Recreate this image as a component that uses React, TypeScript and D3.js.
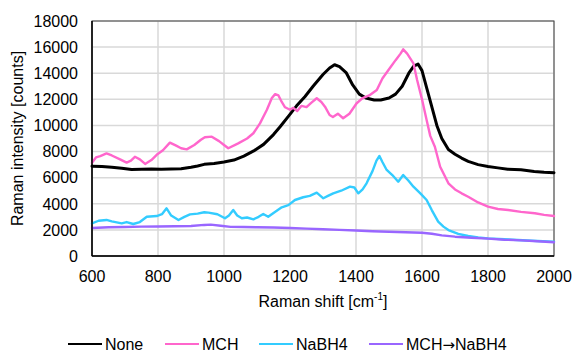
import React from "react";
import * as d3 from "d3";

// Raman spectra, values: [shift cm-1, counts]
const noneSpectrum: [number, number][] = [
  [600, 6880], [630, 6860], [660, 6800], [690, 6720], [720, 6620], [750, 6640], [780, 6660],
  [810, 6650], [840, 6660], [870, 6680], [900, 6800], [920, 6900], [940, 7020], [970, 7080],
  [1000, 7200], [1030, 7350], [1060, 7650], [1090, 8050], [1120, 8550], [1150, 9300],
  [1170, 9900], [1195, 10700], [1220, 11500], [1245, 12200], [1270, 13000], [1300, 13900],
  [1320, 14400], [1335, 14650], [1350, 14500], [1370, 14050], [1390, 13100], [1410, 12400],
  [1430, 12100], [1455, 11950], [1475, 11950], [1500, 12100], [1520, 12400], [1540, 13000],
  [1560, 14000], [1575, 14550], [1588, 14700], [1600, 14200], [1615, 12800], [1630, 11400],
  [1645, 10000], [1660, 9000], [1680, 8150], [1700, 7800], [1720, 7500], [1740, 7250],
  [1770, 7000], [1800, 6850], [1830, 6750], [1860, 6650], [1900, 6600], [1940, 6480],
  [1970, 6420], [2000, 6380],
];

const mchSpectrum: [number, number][] = [
  [600, 7150], [612, 7550], [625, 7650], [644, 7860], [660, 7700], [685, 7400], [705, 7150],
  [718, 7300], [730, 7600], [745, 7400], [761, 7050], [780, 7350], [796, 7750], [815, 8100],
  [836, 8680], [855, 8450], [870, 8250], [887, 8170], [910, 8500], [930, 8900], [942, 9100],
  [963, 9140], [985, 8800], [1000, 8500], [1013, 8250], [1043, 8630], [1070, 9000],
  [1089, 9400], [1109, 10160], [1130, 11200], [1145, 12100], [1155, 12400], [1165, 12300],
  [1175, 11800], [1185, 11390], [1200, 11200], [1210, 11350], [1222, 11100], [1235, 11500],
  [1250, 11400], [1265, 11750], [1281, 12080], [1295, 11800], [1306, 11440], [1320, 10800],
  [1330, 10650], [1345, 10900], [1361, 10550], [1380, 10900], [1402, 11700], [1420, 12100],
  [1440, 12300], [1463, 12720], [1480, 13600], [1500, 14300], [1520, 15000], [1535, 15500],
  [1543, 15830], [1555, 15500], [1574, 14760], [1585, 13500], [1600, 12000], [1614, 10420],
  [1625, 9200], [1639, 8370], [1655, 6840], [1680, 5570], [1700, 5100], [1720, 4800],
  [1740, 4540], [1770, 4100], [1800, 3780], [1830, 3600], [1861, 3520], [1900, 3380],
  [1942, 3270], [1970, 3150], [2000, 3060],
];

const nabh4Spectrum: [number, number][] = [
  [600, 2500], [620, 2700], [644, 2760], [660, 2650], [690, 2500], [705, 2600], [725, 2450],
  [745, 2600], [766, 3010], [796, 3060], [812, 3200], [826, 3650], [840, 3100], [862, 2760],
  [880, 3000], [897, 3190], [920, 3250], [940, 3350], [953, 3320], [980, 3200], [1003, 2890],
  [1015, 3100], [1028, 3520], [1040, 3100], [1054, 2890], [1070, 2950], [1089, 2810],
  [1105, 3000], [1119, 3220], [1134, 3010], [1150, 3300], [1175, 3730], [1195, 3900],
  [1215, 4290], [1240, 4500], [1260, 4600], [1281, 4850], [1301, 4420], [1315, 4600],
  [1331, 4800], [1355, 5000], [1382, 5310], [1395, 5250], [1407, 4800], [1420, 5100],
  [1432, 5570], [1450, 6500], [1462, 7300], [1471, 7660], [1480, 7200], [1493, 6590],
  [1510, 6200], [1528, 5690], [1543, 6200], [1558, 5800], [1574, 5310], [1595, 4800],
  [1614, 4290], [1630, 3500], [1649, 2630], [1665, 2250], [1680, 1990], [1710, 1700],
  [1740, 1530], [1770, 1420], [1800, 1350], [1850, 1280], [1891, 1230], [1950, 1150],
  [2000, 1100],
];

const mchNabh4Spectrum: [number, number][] = [
  [600, 2150], [650, 2200], [700, 2220], [750, 2250], [800, 2260], [850, 2280], [900, 2300],
  [940, 2380], [960, 2400], [990, 2320], [1020, 2230], [1060, 2220], [1100, 2200],
  [1150, 2180], [1200, 2150], [1250, 2100], [1300, 2050], [1350, 2000], [1400, 1950],
  [1450, 1900], [1500, 1860], [1550, 1820], [1600, 1780], [1630, 1700], [1660, 1580],
  [1700, 1480], [1750, 1400], [1800, 1330], [1850, 1250], [1900, 1200], [1950, 1130],
  [2000, 1050],
];

const seriesNames = ["None", "MCH", "NaBH4", "MCH→NaBH4"];
const xTicks = [600, 800, 1000, 1200, 1400, 1600, 1800, 2000];
const yTicks = [0, 2000, 4000, 6000, 8000, 10000, 12000, 14000, 16000, 18000];

const WIDTH = 574;
const HEIGHT = 354;
const margin = { top: 21, right: 20, bottom: 98, left: 92 };
const FONT = "Arial, 'Liberation Sans', sans-serif";

const series = [
  { name: seriesNames[0], data: noneSpectrum, color: "#000000", width: 3 },
  { name: seriesNames[1], data: mchSpectrum, color: "#ff66cc", width: 2.4 },
  { name: seriesNames[2], data: nabh4Spectrum, color: "#33ccff", width: 2.4 },
  { name: seriesNames[3], data: mchNabh4Spectrum, color: "#9966ff", width: 2.4 },
];

// legend line start x for each entry
const legendX = [68, 165, 259, 369];

// the arrow is not in Arial, so take it from DejaVu
function legendLabel(name: string) {
  const parts = name.split("→");
  if (parts.length === 1) return name;
  return (
    <>
      {parts[0]}
      <tspan fontFamily="'DejaVu Sans', sans-serif" fontSize={15}>→</tspan>
      {parts[1]}
    </>
  );
}

export default function App() {
  const innerW = WIDTH - margin.left - margin.right;
  const innerH = HEIGHT - margin.top - margin.bottom;

  const x = d3.scaleLinear().domain([600, 2000]).range([0, innerW]);
  const y = d3.scaleLinear().domain([0, 18000]).range([innerH, 0]);

  const line = d3
    .line<[number, number]>()
    .x((d) => x(d[0]))
    .y((d) => y(d[1]));

  return (
    <div style={{ position: "fixed", left: 0, top: 0, background: "#fff" }}>
      <svg width={WIDTH} height={HEIGHT} style={{ display: "block", fontFamily: FONT }}>
        <rect width={WIDTH} height={HEIGHT} fill="#ffffff" />
        <g transform={`translate(${margin.left},${margin.top})`}>
          {/* gridlines */}
          {yTicks.map((t) => (
            <line key={"gy" + t} x1={0} x2={innerW} y1={y(t)} y2={y(t)} stroke="#d9d9d9" strokeWidth={1.5} />
          ))}
          {xTicks.map((t) => (
            <line key={"gx" + t} x1={x(t)} x2={x(t)} y1={0} y2={innerH} stroke="#d9d9d9" strokeWidth={1.5} />
          ))}
          <rect x={0} y={0} width={innerW} height={innerH} fill="none" stroke="#404040" strokeWidth={1} />

          {series.map((s) => (
            <path
              key={s.name}
              d={line(s.data) || ""}
              fill="none"
              stroke={s.color}
              strokeWidth={s.width}
              strokeLinejoin="round"
              strokeLinecap="round"
            />
          ))}

          {/* axes */}
          <line x1={0} x2={0} y1={0} y2={innerH} stroke="#000" strokeWidth={1.5} />
          <line x1={0} x2={innerW} y1={innerH} y2={innerH} stroke="#000" strokeWidth={1.5} />

          {yTicks.map((t) => (
            <text key={"ty" + t} x={-14} y={y(t)} dy="0.36em" textAnchor="end" fontSize={16} fill="#000">
              {t}
            </text>
          ))}
          {xTicks.map((t) => (
            <text key={"tx" + t} x={x(t)} y={innerH + 26} textAnchor="middle" fontSize={16} fill="#000">
              {t}
            </text>
          ))}

          <text x={innerW / 2} y={innerH + 51} textAnchor="middle" fontSize={16} fill="#000">
            Raman shift [cm
            <tspan fontSize={10} dy={-7}>-1</tspan>
            <tspan dy={7}>]</tspan>
          </text>
        </g>

        <text
          transform={`translate(23,${margin.top + innerH / 2}) rotate(-90)`}
          textAnchor="middle"
          fontSize={16}
          fill="#000"
        >
          Raman intensity [counts]
        </text>

        {/* legend */}
        {series.map((s, i) => (
          <g key={"lg" + s.name} transform={`translate(${legendX[i]},344)`}>
            <line x1={0} x2={34} y1={0} y2={0} stroke={s.color} strokeWidth={2.2} />
            <text x={37} y={6} fontSize={16} fill="#000">
              {legendLabel(s.name)}
            </text>
          </g>
        ))}
      </svg>
    </div>
  );
}
